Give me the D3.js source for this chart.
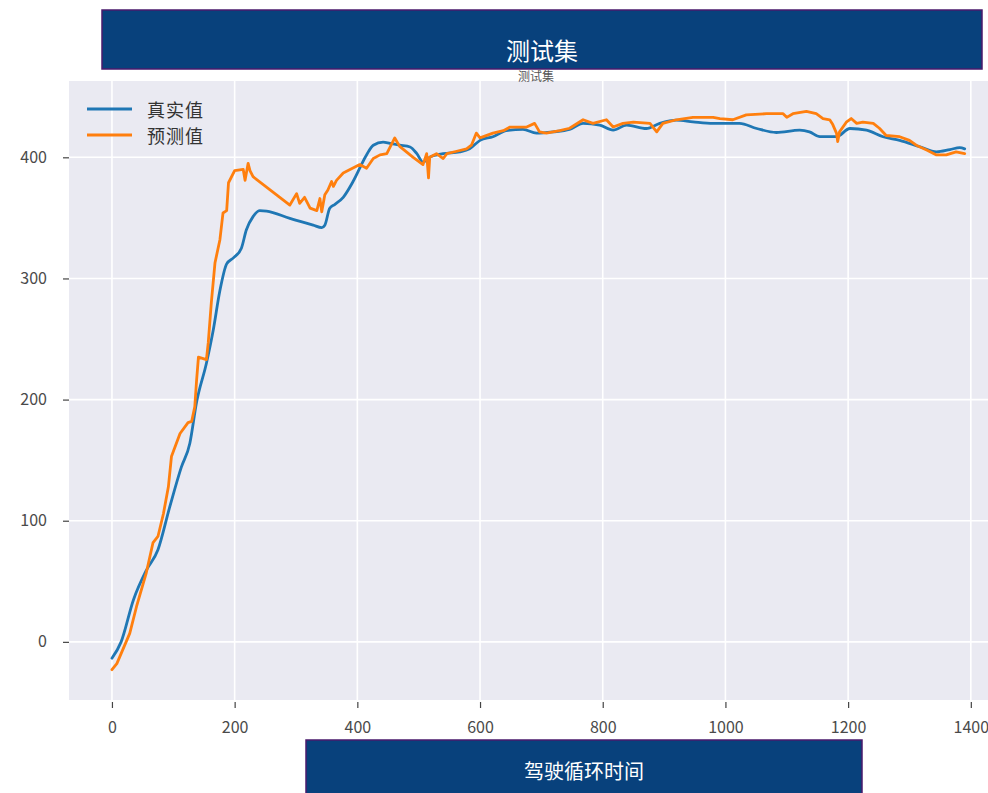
<!DOCTYPE html>
<html>
<head>
<meta charset="utf-8">
<script src="https://cdn.jsdelivr.net/npm/d3@7"></script>
<style>
  html, body { margin: 0; padding: 0; background: #ffffff; }
  svg { display: block; }
</style>
</head>
<body>
<svg id="chart" width="988" height="793"></svg>
<script>
// Series: measured value over the drive-cycle time axis
const timeTrue = [0, 15, 35, 56, 75, 94, 113, 127, 138, 154, 165, 176, 187, 198, 211, 219, 230, 241, 252, 290,
  328, 342, 347, 355, 363, 377, 393, 415, 426, 442, 453, 469, 486, 497, 507, 518, 540, 567, 583, 600,
  621, 643, 670, 692, 719, 746, 768, 795, 817, 839, 871, 893, 920, 947, 980, 991, 1023, 1051, 1083, 1121,
  1137, 1154, 1181, 1203, 1230, 1257, 1284, 1317, 1344, 1366, 1382, 1390];
const valueTrue = [-13.5, 0, 34.6, 59, 76, 111, 144, 164, 198, 230, 257, 290, 312, 317, 325, 340, 351, 356, 355.6, 349.6,
  344, 342, 344, 358, 361, 367, 380, 402, 410, 412.5, 411.5, 410, 408.5, 403, 396, 400, 403, 404.5, 407, 414,
  417, 422, 423, 420, 421, 423, 428, 426.6, 422.4, 426.6, 423.8, 428, 430.7, 429.3, 428, 428, 428, 423.8, 420.5, 422.4,
  421, 417, 417, 423.8, 422.4, 417, 414, 408.7, 404.5, 406.4, 408, 407];

// Series: model prediction
const timePred = [0, 8, 29, 40, 56, 67, 75, 84, 92, 97, 111, 124, 130, 135, 138, 141, 154, 157, 162, 168,
  176, 181, 187, 190, 200, 214, 217, 222, 225, 230, 290, 301, 306, 314, 323, 334, 339, 342, 347, 352,
  358, 361, 366, 377, 404, 415, 426, 437, 448, 461, 469, 491, 507, 513, 516, 518, 529, 540, 546, 562,
  578, 586, 594, 600, 621, 638, 649, 676, 689, 697, 708, 730, 746, 768, 784, 806, 817, 833, 850, 877,
  888, 898, 920, 947, 980, 991, 1012, 1034, 1067, 1094, 1100, 1110, 1132, 1148, 1159, 1170, 1175, 1181, 1183, 1186,
  1197, 1205, 1214, 1224, 1241, 1251, 1262, 1284, 1300, 1311, 1328, 1344, 1360, 1376, 1390];
const valuePred = [-23, -18, 7, 29, 57, 82, 87, 106, 128, 153, 172, 181, 182, 194, 216, 235, 233, 247, 280, 313,
  332, 354, 356, 379, 389, 390, 381, 395, 389, 384, 360.6, 370, 362, 367, 358, 356, 366, 355, 369, 373,
  380, 376, 381, 387, 394, 391, 399, 402, 403, 416, 409, 400, 394, 403, 383, 400, 403, 399, 403, 405,
  407, 410, 420, 416, 420, 422, 425, 425, 428, 421, 420, 422, 424, 431, 428, 431, 425, 428, 429, 428,
  421, 428, 431, 433, 433, 432, 431, 435, 436, 436, 433, 436, 438, 436, 432, 431, 427, 420, 413, 421,
  429, 432, 428, 429, 428, 424, 418, 417, 414, 410, 406, 402, 402, 404.5, 403];

const xTicks = [0, 200, 400, 600, 800, 1000, 1200, 1400];
const yTicks = [0, 100, 200, 300, 400];
const seriesNames = ["真实值", "预测值"];
const seriesColors = ["#1f77b4", "#ff7f0e"];
const chartTitle = "测试集";
const xLabel = "驾驶循环时间";

const svg = d3.select("#chart");
const plot = { left: 69, right: 988, top: 81, bottom: 700 };
const cjk = "'Noto Sans CJK SC', 'Noto Sans', sans-serif";

const x = d3.scaleLinear().domain([-70, 1428]).range([plot.left, plot.right]);
const y = d3.scaleLinear().domain([-48, 463]).range([plot.bottom, plot.top]);

// Axes background
svg.append("rect")
  .attr("x", plot.left).attr("y", plot.top)
  .attr("width", plot.right - plot.left).attr("height", plot.bottom - plot.top)
  .attr("fill", "#eaeaf2");

// Grid
const grid = svg.append("g");
grid.selectAll("line.gx").data(xTicks).join("line")
  .attr("x1", d => x(d)).attr("x2", d => x(d))
  .attr("y1", plot.top).attr("y2", plot.bottom)
  .attr("stroke", "#ffffff").attr("stroke-width", 1.6);
grid.selectAll("line.gy").data(yTicks).join("line")
  .attr("y1", d => y(d)).attr("y2", d => y(d))
  .attr("x1", plot.left).attr("x2", plot.right)
  .attr("stroke", "#ffffff").attr("stroke-width", 1.6);

// X axis
const xAxis = d3.axisBottom(x).tickValues(xTicks).tickSize(6).tickPadding(14).tickFormat(d3.format("d"));
const gx = svg.append("g").attr("transform", `translate(0,${plot.bottom + 2})`).call(xAxis);
gx.select(".domain").remove();
gx.selectAll(".tick line").attr("stroke", "#444").attr("stroke-width", 1.2);
gx.selectAll(".tick text").attr("fill", "#4a4a4a").style("font-family", cjk).style("font-size", "16px");

// Y axis
const yAxis = d3.axisLeft(y).tickValues(yTicks).tickSize(6).tickPadding(16).tickFormat(d3.format("d"));
const gy = svg.append("g").attr("transform", `translate(${plot.left},0)`).call(yAxis);
gy.select(".domain").remove();
gy.selectAll(".tick line").attr("stroke", "#444").attr("stroke-width", 1.2);
gy.selectAll(".tick text").attr("fill", "#4a4a4a").style("font-family", cjk).style("font-size", "16px");

// Lines: measured series drawn smooth, prediction kept as a raw polyline
const seriesData = [
  d3.zip(timeTrue, valueTrue),
  d3.zip(timePred, valuePred)
];
const curves = [d3.curveMonotoneX, d3.curveLinear];
svg.append("g").selectAll("path").data(seriesData).join("path")
  .attr("d", (d, i) => d3.line().x(p => x(p[0])).y(p => y(p[1])).curve(curves[i])(d))
  .attr("fill", "none")
  .attr("stroke", (d, i) => seriesColors[i])
  .attr("stroke-width", 2.8)
  .attr("stroke-linejoin", "round")
  .attr("stroke-linecap", "round");

// Legend
const legend = svg.append("g");
seriesNames.forEach((name, i) => {
  const ly = 109 + i * 26;
  legend.append("line")
    .attr("x1", 87).attr("x2", 132).attr("y1", ly).attr("y2", ly)
    .attr("stroke", seriesColors[i]).attr("stroke-width", 2.8);
  legend.append("text")
    .attr("x", 147).attr("y", ly)
    .attr("dominant-baseline", "central")
    .attr("fill", "#333")
    .style("font-family", cjk).style("font-size", "18px")
    .style("letter-spacing", "1px")
    .text(name);
});

// Small axes title beneath the banner
svg.append("text")
  .attr("x", 536).attr("y", 81)
  .attr("text-anchor", "middle")
  .attr("fill", "#555")
  .style("font-family", cjk).style("font-size", "12px")
  .text(chartTitle);

// Title banner
svg.append("rect")
  .attr("x", 102).attr("y", 10).attr("width", 880).attr("height", 59)
  .attr("fill", "#08417c").attr("stroke", "#4a1a6c").attr("stroke-width", 1.5);
svg.append("text")
  .attr("x", 542).attr("y", 49)
  .attr("text-anchor", "middle").attr("dominant-baseline", "central")
  .attr("fill", "#ffffff")
  .style("font-family", cjk).style("font-size", "24px")
  .text(chartTitle);

// X label banner
svg.append("rect")
  .attr("x", 306).attr("y", 740).attr("width", 556).attr("height", 60)
  .attr("fill", "#08417c").attr("stroke", "#4a1a6c").attr("stroke-width", 1.5);
svg.append("text")
  .attr("x", 584).attr("y", 770)
  .attr("text-anchor", "middle").attr("dominant-baseline", "central")
  .attr("fill", "#ffffff")
  .style("font-family", cjk).style("font-size", "20px")
  .text(xLabel);
</script>
</body>
</html>
